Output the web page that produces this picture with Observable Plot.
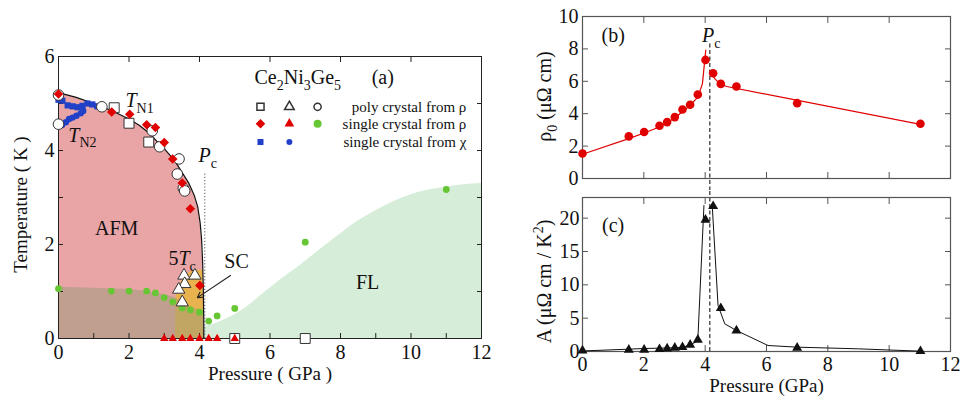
<!DOCTYPE html>
<html><head><meta charset="utf-8">
<script src="https://cdn.jsdelivr.net/npm/d3@7"></script>
<script src="https://cdn.jsdelivr.net/npm/@observablehq/plot@0.6"></script>
<style>
body{margin:0;background:#fff;}
#wrap{position:relative;width:960px;height:406px;overflow:hidden;font-family:"Liberation Serif",serif;}
.panel{position:absolute;}
</style></head><body>
<div id="wrap">
  <div class="panel" id="pa" style="left:0;top:0;width:510px;height:406px"></div>
  <div class="panel" id="pb" style="left:520px;top:0;width:440px;height:190px"></div>
  <div class="panel" id="pc" style="left:520px;top:190px;width:440px;height:216px"></div>
</div>
<script>
// ================= DATA =================
// critical pressure (GPa)
const criticalPressure = 4.15;

// ---- panel (a): phase diagram, [pressure GPa, temperature K] ----
const afmBoundary = [[0,5.23],[0.5,5.13],[1.0,5.0],[1.5,4.85],[2.0,4.67],[2.3,4.53],[2.6,4.35],[2.8,4.19],[3.0,4.04],[3.3,3.78],[3.5,3.54],[3.7,3.3],[3.85,3.05],[3.95,2.8],[4.02,2.45],[4.06,2.1],[4.09,1.6],[4.11,1.0],[4.12,0.4],[4.121,0]];
const scRegion = [[3.32,0],[3.33,0.88],[3.42,1.12],[3.55,1.3],[3.75,1.42],[3.95,1.45],[4.1,1.45],[4.12,0]];
const coherentBand = [[0,1.09],[1,1.07],[2,1.04],[2.5,1.0],[3.0,0.93],[3.3,0.87],[3.6,0.72],[3.9,0.63],[4.11,0.58],[4.12,0]];
const flRegion = [[4.12,0],[4.14,0.25],[4.3,0.28],[4.8,0.43],[5.3,0.65],[5.8,0.95],[6.3,1.25],[6.8,1.52],[7.3,1.82],[7.9,2.17],[8.5,2.5],[9,2.72],[9.5,2.91],[10,3.06],[10.5,3.16],[11,3.22],[11.5,3.27],[12,3.3]];

const polyRhoSquares = [[1.58,4.91],[2.0,4.58],[2.56,4.18],[5.0,0],[7.0,0]];
const polyRhoTriangles = [[3.56,1.34],[3.87,1.34],[3.58,1.16],[3.41,1.04],[3.51,0.77]];
const polyRhoCircles = [[0,5.18],[0,4.56],[1.23,4.93],[2.66,4.42],[2.87,4.08],[3.42,3.82],[3.37,3.5],[3.54,3.2],[3.58,3.14]];
const singleRhoDiamonds = [[0,5.2],[1.51,4.82],[2.02,4.77],[2.5,4.55],[2.75,4.49],[3.0,4.17],[3.24,3.82],[3.51,3.31],[3.74,2.76],[4.01,1.13]];
const singleRhoTriangles = [[3.0,0],[3.24,0],[3.51,0],[3.74,0],[4.0,0],[4.26,0],[4.5,0],[5.0,0]];
const singleRhoGreen = [[0,1.06],[1.5,1.01],[2.0,1.01],[2.5,1.01],[2.75,0.97],[3.0,0.87],[3.24,0.78],[3.51,0.65],[3.74,0.61],[4.0,0.56],[4.26,0.37],[4.5,0.48],[5.0,0.64],[7.0,2.05],[11.0,3.17]];
const singleChiSquares = [[0,5.08],[0.11,5.06],[0.26,4.96],[0.4,4.94],[0.54,4.92],[0.68,4.95],[0.82,5.0],[0.96,4.98],[1.1,4.94]];
const singleChiCircles = [[0,4.56],[0.1,4.54],[0.21,4.6],[0.3,4.67],[0.4,4.7],[0.51,4.74],[0.63,4.79],[0.7,4.84]];
const legendLabels = ["poly crystal from ρ", "single crystal from ρ", "single crystal from χ"];

// ---- panel (b): residual resistivity [GPa, μΩ cm] ----
const rho0Points = [[0,1.54],[1.51,2.6],[2.01,2.87],[2.51,3.26],[2.76,3.48],[3.01,3.79],[3.26,4.26],[3.51,4.55],[3.76,5.18],[4.01,7.32],[4.26,6.5],[4.51,5.84],[5.02,5.68],[7.0,4.65],[11.02,3.38]];
const rho0FitLow = [[0,1.5],[1.51,2.46],[2.01,2.81],[2.51,3.18],[3.01,3.73],[3.26,4.14],[3.51,4.51],[3.76,5.02],[3.91,5.84],[4.02,7.93]];
const rho0FitHigh = [[4.15,6.62],[4.32,6.15],[4.48,5.84],[4.7,5.68],[11.02,3.34]];

// ---- panel (c): A coefficient [GPa, μΩ cm / K^2] ----
const aPoints = [[0,0.15],[1.51,0.25],[2.01,0.25],[2.51,0.35],[2.76,0.45],[3.01,0.55],[3.26,0.65],[3.51,1.0],[3.76,1.75],[4.01,19.75],[4.26,21.8],[4.51,6.5],[5.02,3.15],[7.0,0.55],[11.02,0.05]];
const aFitLow = [[0,0.08],[1.51,0.35],[2.0,0.45],[2.5,0.5],[3.0,0.56],[3.25,0.62],[3.5,0.95],[3.76,1.6],[3.96,21.9]];
const aFitHigh = [[4.23,21.9],[4.42,6.9],[4.64,4.15],[5.02,3.15],[6.05,0.9],[7.0,0.65],[9.0,0.4],[11.02,0.05]];

// tick values
const aTicksX = d3.range(0, 13), aTopTicksX = [2,4,6,8,10], aLabelsX = [0,2,4,6,8,10,12];
const aTicksY = d3.range(0, 7), aLabelsY = [0,2,4,6];
const bcTicksX = [2,4,6,8,10], bcLabelsX = [0,2,4,6,8,10,12];
const bTicksY = [2,4,6,8], bLabelsY = [0,2,4,6,8,10];
const cTicksY = [5,10,15,20], cLabelsY = [0,5,10,15,20];

// ================= DRAWING =================
const X = d => d[0], Y = d => d[1];
const FONT = "Liberation Serif";
const hide = () => "";

function boxAxes({xTicks, xTop, xLabels, yTicks, yLabels, len, color, fs, padX, padY}) {
  const m = [
    Plot.axisX(xTicks, {anchor: "bottom", tickSize: -len, tickFormat: hide, stroke: color, label: null}),
    Plot.axisX(xTop, {anchor: "top", tickSize: -len, tickFormat: hide, stroke: color, label: null}),
    Plot.axisY(yTicks, {anchor: "left", tickSize: -len, tickFormat: hide, stroke: color, label: null}),
    Plot.axisY(yTicks, {anchor: "right", tickSize: -len, tickFormat: hide, stroke: color, label: null}),
    Plot.axisY(yLabels, {anchor: "left", tickSize: 0, tickPadding: padY, fontSize: fs, label: null})
  ];
  if (xLabels) m.push(Plot.axisX(xLabels, {anchor: "bottom", tickSize: 0, tickPadding: padX, fontSize: fs, label: null}));
  return m;
}

const RED = "#e00000", BLUE = "#2040c8", GREEN = "#66c633", OPEN = "#333";

const panelA = Plot.plot({
  width: 510, height: 406, marginLeft: 58, marginRight: 29, marginTop: 56, marginBottom: 68,
  x: {domain: [0, 12]}, y: {domain: [0, 6]},
  style: {fontFamily: FONT, background: "transparent", color: "#111"},
  marks: [
    Plot.areaY(flRegion, {x: X, y: Y, fill: "#d6eed9", curve: "monotone-x"}),
    Plot.areaY(afmBoundary, {x: X, y: Y, fill: "#e9a4a6"}),
    Plot.areaY(scRegion, {x: X, y: Y, fill: "#e8b24e"}),
    Plot.areaY(coherentBand, {x: X, y: Y, fill: "#9a9a78", fillOpacity: 0.5}),
    Plot.line(afmBoundary, {x: X, y: Y, stroke: "#111", strokeWidth: 1.2}),
    Plot.ruleX([criticalPressure], {y1: 0, y2: 3.5, stroke: "#555", strokeDasharray: "1.2,2"}),
    Plot.frame({stroke: "#222"}),
    ...boxAxes({xTicks: aTicksX, xTop: aTopTicksX, xLabels: aLabelsX, yTicks: aTicksY, yLabels: aLabelsY, len: 5, color: "#222", fs: 20, padX: 6, padY: 4}),
    Plot.text(["Pressure ( GPa )"], {frameAnchor: "bottom", dy: 41, fontSize: 19}),
    Plot.text(["Temperature ( K )"], {frameAnchor: "left", textAnchor: "middle", rotate: -90, dx: -38, dy: 7, fontSize: 19}),
    // annotations
    Plot.text(["AFM"], {x: 1.65, y: 2.34, fontSize: 20}),
    Plot.text(["FL"], {x: 8.77, y: 1.19, fontSize: 20}),
    Plot.text(["SC"], {x: 5.05, y: 1.64, fontSize: 20}),
    Plot.text(["*T*_{N1}"], {x: 1.9, y: 5.06, fontSize: 20, textAnchor: "start"}),
    Plot.text(["*T*_{N2}"], {x: 0.28, y: 4.32, fontSize: 20, textAnchor: "start"}),
    Plot.text(["*P*_{c}"], {x: 3.97, y: 3.89, fontSize: 20, textAnchor: "start"}),
    Plot.text(["5*T*_{c}"], {x: 3.12, y: 1.7, fontSize: 20, textAnchor: "start"}),
    Plot.arrow([0], {x1: 4.88, y1: 1.34, x2: 3.94, y2: 0.87, stroke: "#222", strokeWidth: 1.1, headLength: 8}),
    // data
    Plot.dot(singleRhoGreen, {x: X, y: Y, r: 3.4, fill: GREEN}),
    Plot.dot(singleChiSquares, {x: X, y: Y, symbol: "square", r: 3.5, fill: BLUE}),
    Plot.dot(singleChiCircles, {x: X, y: Y, r: 3.2, fill: BLUE}),
    Plot.dot(polyRhoCircles, {x: X, y: Y, r: 5.3, fill: "white", stroke: OPEN, strokeWidth: 1}),
    Plot.dot(polyRhoSquares, {x: X, y: Y, symbol: "square", r: 5.6, fill: "white", stroke: OPEN, strokeWidth: 1}),
    Plot.dot(polyRhoTriangles, {x: X, y: Y, symbol: "triangle", r: 4.6, fill: "white", stroke: OPEN, strokeWidth: 1}),
    Plot.dot(singleRhoDiamonds, {x: X, y: Y, symbol: "diamond2", r: 4.3, fill: RED}),
    Plot.dot(singleRhoTriangles, {x: X, y: Y, symbol: "triangle", r: 3.1, fill: RED}),
    // title + legend
    Plot.text(["Ce_{2}Ni_{3}Ge_{5}"], {x: 5.56, y: 5.55, fontSize: 20, textAnchor: "start"}),
    Plot.text(["(a)"], {x: 9.2, y: 5.55, fontSize: 20}),
    Plot.dot([0], {x: 5.73, y: 4.93, symbol: "square", r: 4.0, fill: "white", stroke: OPEN}),
    Plot.dot([0], {x: 6.55, y: 4.93, symbol: "triangle", r: 3.6, fill: "white", stroke: OPEN}),
    Plot.dot([0], {x: 7.35, y: 4.93, r: 3.6, fill: "white", stroke: OPEN}),
    Plot.dot([0], {x: 5.73, y: 4.57, symbol: "diamond2", r: 4.3, fill: RED}),
    Plot.dot([0], {x: 6.55, y: 4.57, symbol: "triangle", r: 3.6, fill: RED}),
    Plot.dot([0], {x: 7.35, y: 4.57, r: 4.0, fill: GREEN}),
    Plot.dot([0], {x: 5.73, y: 4.18, symbol: "square", r: 3.4, fill: BLUE}),
    Plot.dot([0], {x: 6.55, y: 4.18, r: 3.0, fill: BLUE}),
    Plot.text(legendLabels, {x: 11.57, y: (d, i) => [4.93, 4.57, 4.18][i], fontSize: 15, textAnchor: "end"})
  ]
});

const panelB = Plot.plot({
  width: 440, height: 190, marginLeft: 62, marginRight: 10, marginTop: 16, marginBottom: 12,
  x: {domain: [0, 12]}, y: {domain: [0, 10]},
  style: {fontFamily: FONT, background: "transparent", color: "#111"},
  marks: [
    Plot.frame({stroke: "#555", strokeWidth: 1.2}),
    ...boxAxes({xTicks: bcTicksX, xTop: bcTicksX, xLabels: null, yTicks: bTicksY, yLabels: bLabelsY, len: 6, color: "#555", fs: 20, padX: 6, padY: 4}),
    Plot.ruleX([criticalPressure], {y1: 8.3, y2: -0.75, stroke: "#555", strokeWidth: 1.5, strokeDasharray: "4,2.5"}),
    Plot.line(rho0FitLow, {x: X, y: Y, stroke: RED, strokeWidth: 1.2}),
    Plot.line(rho0FitHigh, {x: X, y: Y, stroke: RED, strokeWidth: 1.2}),
    Plot.dot(rho0Points, {x: X, y: Y, r: 4.3, fill: RED}),
    Plot.text(["(b)"], {x: 1.0, y: 8.8, fontSize: 20}),
    Plot.text(["*P*_{c}"], {x: 3.9, y: 8.8, fontSize: 20, textAnchor: "start"}),
    Plot.text(["ρ_{0} (μΩ cm)"], {frameAnchor: "left", textAnchor: "middle", rotate: -90, dx: -38, dy: -1, fontSize: 20})
  ]
});

const panelC = Plot.plot({
  width: 440, height: 216, marginLeft: 62, marginRight: 10, marginTop: 7, marginBottom: 55,
  x: {domain: [0, 12]}, y: {domain: [0, 23.1]},
  style: {fontFamily: FONT, background: "transparent", color: "#111"},
  marks: [
    Plot.frame({stroke: "#555", strokeWidth: 1.2}),
    ...boxAxes({xTicks: bcTicksX, xTop: bcTicksX, xLabels: bcLabelsX, yTicks: cTicksY, yLabels: cLabelsY, len: 6, color: "#555", fs: 20, padX: 5, padY: 3}),
    Plot.ruleX([criticalPressure], {y1: 0, y2: 24.2, stroke: "#555", strokeWidth: 1.5, strokeDasharray: "4,2.5"}),
    Plot.line(aFitLow, {x: X, y: Y, stroke: "#111", strokeWidth: 1}),
    Plot.line(aFitHigh, {x: X, y: Y, stroke: "#111", strokeWidth: 1}),
    Plot.dot(aPoints, {x: X, y: Y, symbol: "triangle", r: 3.7, fill: "#111"}),
    Plot.text(["(c)"], {x: 1.0, y: 18.9, fontSize: 20}),
    Plot.text(["Pressure (GPa)"], {frameAnchor: "bottom", dy: 40, fontSize: 19}),
    Plot.text(["A (μΩ cm / K^{2})"], {frameAnchor: "left", textAnchor: "middle", rotate: -90, dx: -38, dy: 7, fontSize: 20})
  ]
});

document.getElementById("pa").appendChild(panelA);
document.getElementById("pb").appendChild(panelB);
document.getElementById("pc").appendChild(panelC);

// rich text: *italic*, _{sub}, ^{sup}
function richify(root) {
  const NS = "http://www.w3.org/2000/svg";
  root.querySelectorAll("text").forEach(t => {
    if (t.querySelector("tspan")) return;
    const s = t.textContent;
    if (!/\*|_\{|\^\{/.test(s)) return;
    const fs = parseFloat(getComputedStyle(t).fontSize) || 16;
    const parts = s.split(/(\*[^*]+\*|_\{[^}]*\}|\^\{[^}]*\})/).filter(p => p);
    t.textContent = "";
    let cur = 0;
    for (const p of parts) {
      const ts = document.createElementNS(NS, "tspan");
      let txt = p, off = 0, small = false, ital = false;
      if (p[0] === "*") { txt = p.slice(1, -1); ital = true; }
      else if (p.startsWith("_{")) { txt = p.slice(2, -1); off = 0.28 * fs; small = true; }
      else if (p.startsWith("^{")) { txt = p.slice(2, -1); off = -0.4 * fs; small = true; }
      if (off !== cur) ts.setAttribute("dy", off - cur);
      cur = off;
      if (small) ts.setAttribute("font-size", (fs * 0.7).toFixed(1));
      if (ital) ts.setAttribute("font-style", "italic");
      ts.textContent = txt;
      t.appendChild(ts);
    }
  });
}
richify(document.getElementById("wrap"));
</script>
</body></html>
